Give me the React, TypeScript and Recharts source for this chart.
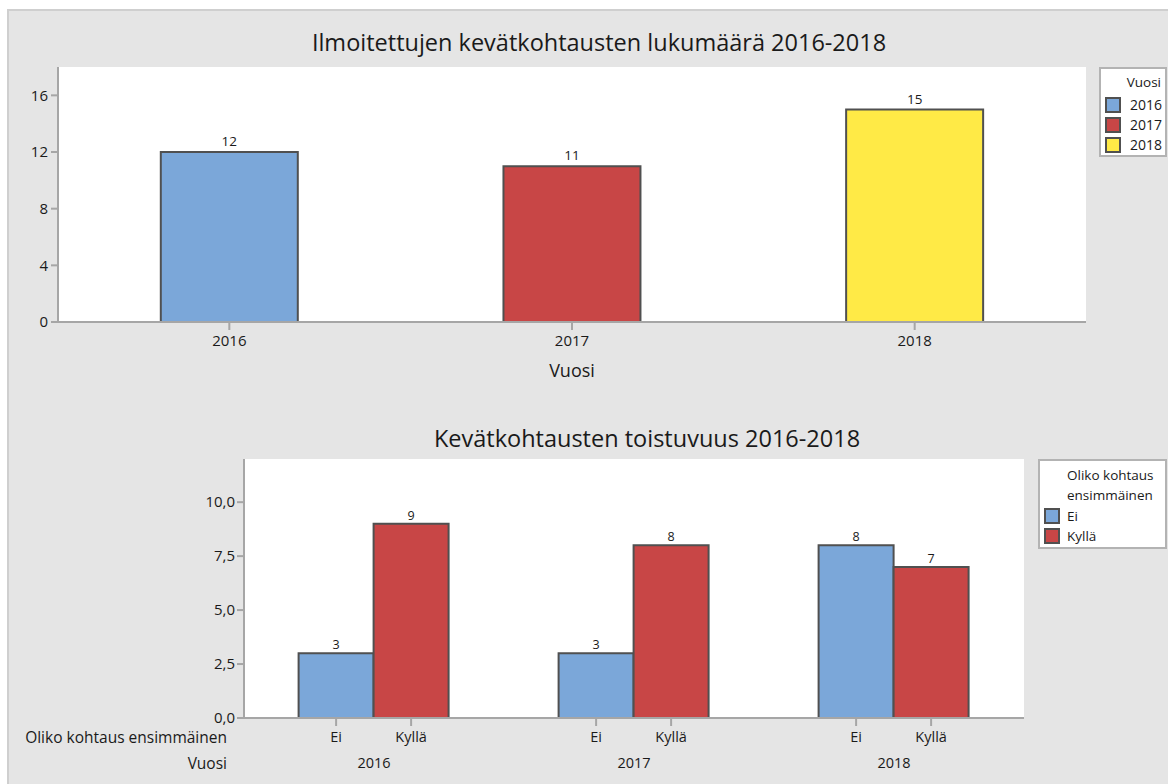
import React from 'react';
import { BarChart, Bar, XAxis, YAxis, CartesianGrid, Cell, LabelList } from 'recharts';

const years = ['2016', '2017', '2018'];
const yearCounts = [12, 11, 15];
const yearColors = ['#7BA7D9', '#C84646', '#FFEA46'];
const topTicks = [0, 4, 8, 12, 16];

const firstLabels = ['Ei', 'Kyllä'];
const eiCounts = [3, 3, 8];
const kyllaCounts = [9, 8, 7];
const seriesColors = ['#7BA7D9', '#C84646'];
const bottomTicks = [0, 2.5, 5, 7.5, 10];

const topTitle = 'Ilmoitettujen kevätkohtausten lukumäärä 2016-2018';
const bottomTitle = 'Kevätkohtausten toistuvuus 2016-2018';
const yearAxisName = 'Vuosi';
const firstAxisName = 'Oliko kohtaus ensimmäinen';

const FONT = '"Segoe UI", "Open Sans", "Noto Sans", sans-serif';
const AXIS = '#a6a6a6';
const EDGE = '#505050';
const TXT = '#1a1a1a';

const topData = years.map((y, i) => ({ year: y, count: yearCounts[i] }));
const bottomData = years.map((y, i) => ({ year: y, ei: eiCounts[i], kylla: kyllaCounts[i] }));

const fmtComma = (v: number) => v.toFixed(1).replace('.', ',');

const makeCatTick = (name: string) => (props: any) => {
  const { x, y, width, height } = props;
  const cx = Number(x) + Number(width) / 2;
  const bottom = Number(y) + Number(height);
  return (
    <g>
      <line x1={cx} x2={cx} y1={bottom + 1} y2={bottom + 8} stroke={AXIS} strokeWidth={2} />
      <text x={cx} y={bottom + 24} textAnchor="middle" fontSize={14.5} fill={TXT} fontFamily={FONT}>
        {name}
      </text>
    </g>
  );
};

const YearTick = (props: any) => {
  const { x, y, payload } = props;
  return (
    <text x={x} y={y + 50} textAnchor="middle" fontSize={14.5} fill={TXT} fontFamily={FONT}>
      {payload.value}
    </text>
  );
};

const swatch = (color: string) => ({
  width: 12,
  height: 12,
  background: color,
  border: `2px solid ${EDGE}`,
  display: 'inline-block',
});

export default function App() {
  return (
    <div style={{ position: 'absolute', left: 0, top: 0, width: 1168, height: 784, background: '#fff', fontFamily: FONT, color: TXT }}>
      <div style={{ position: 'absolute', left: 7, top: 9, right: 0, bottom: 0, background: '#e5e5e5', borderLeft: '2px solid #cfcfcf', borderTop: '2px solid #cfcfcf' }} />

      {/* Top chart */}
      <div style={{ position: 'absolute', left: 599, top: 27, transform: 'translateX(-50%)', fontSize: 23.5, whiteSpace: 'nowrap', lineHeight: '30px' }}>
        {topTitle}
      </div>
      <div style={{ position: 'absolute', left: 0, top: 0 }}>
        <BarChart width={1168} height={400} data={topData} margin={{ top: 67, right: 82, left: 0, bottom: 18 }} barCategoryGap="30%">
          <CartesianGrid fill="#ffffff" horizontal={false} vertical={false} />
          <XAxis
            dataKey="year"
            height={60}
            tickSize={8}
            tickMargin={5}
            axisLine={{ stroke: AXIS, strokeWidth: 2 }}
            tickLine={{ stroke: AXIS, strokeWidth: 2 }}
            tick={{ fontSize: 15, fill: TXT, fontFamily: FONT }}
            label={{ value: yearAxisName, position: 'insideBottom', offset: 5, fontSize: 18, fill: TXT, fontFamily: FONT }}
          />
          <XAxis dataKey="year" xAxisId="top" orientation="top" height={0} tick={false} tickLine={false} axisLine={{ stroke: AXIS, strokeWidth: 2 }} />
          <YAxis
            width={58}
            domain={[0, 18]}
            ticks={topTicks}
            tickSize={7}
            tickMargin={3}
            axisLine={{ stroke: AXIS, strokeWidth: 2 }}
            tickLine={{ stroke: AXIS, strokeWidth: 2 }}
            tick={{ fontSize: 15, fill: TXT, fontFamily: FONT }}
          />
          <YAxis yAxisId="right" orientation="right" width={0} domain={[0, 18]} tick={false} tickLine={false} axisLine={{ stroke: AXIS, strokeWidth: 2 }} />
          <Bar dataKey="count" isAnimationActive={false} stroke={EDGE} strokeWidth={2}>
            {topData.map((d, i) => (
              <Cell key={d.year} fill={yearColors[i]} />
            ))}
            <LabelList dataKey="count" position="top" offset={6} fontSize={13.5} fill={TXT} fontFamily={FONT} />
          </Bar>
        </BarChart>
      </div>
      <div style={{ position: 'absolute', left: 1099, top: 67, width: 64, height: 86, background: '#fff', border: '2px solid #b3b3b3', fontSize: 14 }}>
        <div style={{ position: 'absolute', right: 4, top: 4, lineHeight: '18px', fontSize: 13.5 }}>{yearAxisName}</div>
        {years.map((y, i) => (
          <div key={y} style={{ position: 'absolute', left: 4, top: 27 + i * 20, display: 'flex', alignItems: 'center', lineHeight: '18px' }}>
            <span style={swatch(yearColors[i])} />
            <span style={{ marginLeft: 9 }}>{y}</span>
          </div>
        ))}
      </div>

      {/* Bottom chart */}
      <div style={{ position: 'absolute', left: 647, top: 423, transform: 'translateX(-50%)', fontSize: 23.5, whiteSpace: 'nowrap', lineHeight: '30px' }}>
        {bottomTitle}
      </div>
      <div style={{ position: 'absolute', left: 0, top: 400 }}>
        <BarChart width={1168} height={384} data={bottomData} margin={{ top: 59, right: 144, left: 0, bottom: 6 }} barCategoryGap="21%" barGap={0}>
          <CartesianGrid fill="#ffffff" horizontal={false} vertical={false} />
          <XAxis
            dataKey="year"
            height={60}
            tickSize={0}
            tickMargin={0}
            tickLine={false}
            axisLine={{ stroke: AXIS, strokeWidth: 2 }}
            tick={<YearTick />}
          />
          <XAxis dataKey="year" xAxisId="top" orientation="top" height={0} tick={false} tickLine={false} axisLine={{ stroke: AXIS, strokeWidth: 2 }} />
          <YAxis
            width={244}
            domain={[0, 12]}
            ticks={bottomTicks}
            tickFormatter={fmtComma}
            tickSize={7}
            tickMargin={2}
            axisLine={{ stroke: AXIS, strokeWidth: 2 }}
            tickLine={{ stroke: AXIS, strokeWidth: 2 }}
            tick={{ fontSize: 15, fill: TXT, fontFamily: FONT }}
          />
          <YAxis yAxisId="right" orientation="right" width={0} domain={[0, 12]} tick={false} tickLine={false} axisLine={{ stroke: AXIS, strokeWidth: 2 }} />
          <Bar dataKey="ei" name={firstLabels[0]} fill={seriesColors[0]} stroke={EDGE} strokeWidth={2} isAnimationActive={false}>
            <LabelList dataKey="ei" position="top" offset={4} fontSize={12.5} fill={TXT} fontFamily={FONT} />
            <LabelList dataKey="ei" content={makeCatTick(firstLabels[0])} />
          </Bar>
          <Bar dataKey="kylla" name={firstLabels[1]} fill={seriesColors[1]} stroke={EDGE} strokeWidth={2} isAnimationActive={false}>
            <LabelList dataKey="kylla" position="top" offset={4} fontSize={12.5} fill={TXT} fontFamily={FONT} />
            <LabelList dataKey="kylla" content={makeCatTick(firstLabels[1])} />
          </Bar>
        </BarChart>
      </div>
      <div style={{ position: 'absolute', left: 0, width: 227, top: 727, textAlign: 'right', fontSize: 15.5, lineHeight: '20px', whiteSpace: 'nowrap' }}>{firstAxisName}</div>
      <div style={{ position: 'absolute', left: 0, width: 227, top: 753, textAlign: 'right', fontSize: 15.5, lineHeight: '20px' }}>{yearAxisName}</div>

      <div style={{ position: 'absolute', left: 1038, top: 459, width: 125, height: 86, background: '#fff', border: '2px solid #b3b3b3', fontSize: 13.5 }}>
        <div style={{ position: 'absolute', left: 27, top: 4, lineHeight: '20px' }}>Oliko kohtaus</div>
        <div style={{ position: 'absolute', left: 27, top: 24, lineHeight: '20px' }}>ensimmäinen</div>
        {firstLabels.map((n, i) => (
          <div key={n} style={{ position: 'absolute', left: 4, top: 46 + i * 20, display: 'flex', alignItems: 'center', lineHeight: '18px' }}>
            <span style={swatch(seriesColors[i])} />
            <span style={{ marginLeft: 7 }}>{n}</span>
          </div>
        ))}
      </div>
    </div>
  );
}
